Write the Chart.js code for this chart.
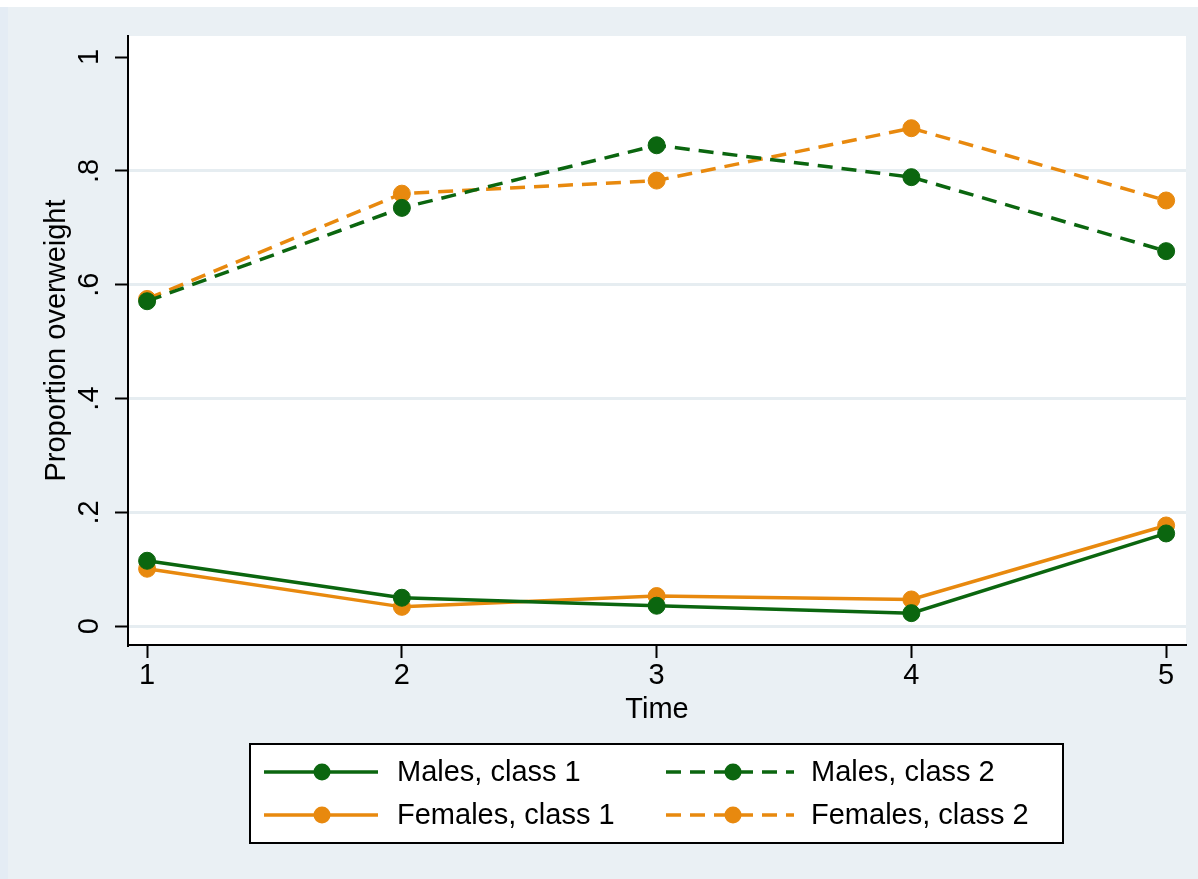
<!DOCTYPE html>
<html>
<head>
<meta charset="utf-8">
<script src="https://cdn.jsdelivr.net/npm/chart.js@4.4.1/dist/chart.umd.min.js"></script>
<style>
  html, body { margin: 0; padding: 0; background: #eaf0f4; }
  #wrap { width: 1198px; height: 879px; position: relative; }
  canvas { display: block; }
</style>
</head>
<body>
<div id="wrap"><canvas id="c" width="1198" height="879"></canvas></div>
<script>
// ---- Data ----
const times = [1, 2, 3, 4, 5];
const malesClass1 = [0.115, 0.050, 0.036, 0.023, 0.163];
const femalesClass1 = [0.101, 0.034, 0.053, 0.047, 0.177];
const malesClass2 = [0.571, 0.735, 0.845, 0.789, 0.659];
const femalesClass2 = [0.575, 0.760, 0.783, 0.875, 0.748];
const yTickValues = [0, 0.2, 0.4, 0.6, 0.8, 1];
const yTickLabels = ['0', '.2', '.4', '.6', '.8', '1'];
const xTickValues = [1, 2, 3, 4, 5];
const seriesNames = ['Males, class 1', 'Males, class 2', 'Females, class 1', 'Females, class 2'];

// ---- Styles ----
const GREEN = '#0b660f';
const ORANGE = '#e8890e';
const BG = '#eaf0f4';
const GRID = '#e6edf1';
const FONT = "'Liberation Sans', Arial, sans-serif";
const FS = 29;
const DASH = [15, 9];

const toPts = arr => arr.map((v, i) => ({ x: times[i], y: v }));

function ds(label, values, color, dashed) {
  return {
    label,
    data: toPts(values),
    borderColor: color,
    backgroundColor: color,
    borderWidth: 3.5,
    borderDash: dashed ? DASH : [],
    pointRadius: 8.5,
    pointHoverRadius: 8.5,
    pointBackgroundColor: color,
    pointBorderColor: color,
    pointBorderWidth: 1,
    tension: 0,
    fill: false
  };
}

const bgPlugin = {
  id: 'bgPlugin',
  beforeDraw(chart) {
    const { ctx, chartArea: a } = chart;
    ctx.save();
    ctx.fillStyle = BG;
    ctx.fillRect(0, 0, chart.width, chart.height);
    ctx.fillStyle = '#ffffff';
    ctx.fillRect(0, 0, chart.width, 7);
    ctx.fillStyle = '#e4ecf4';
    ctx.fillRect(0, 7, 8, chart.height - 7);
    ctx.fillStyle = '#ffffff';
    ctx.fillRect(a.left, a.top, a.right - a.left, a.bottom - a.top);
    ctx.restore();
  }
};

const legendPlugin = {
  id: 'stataLegend',
  afterDraw(chart) {
    const { ctx } = chart;
    const box = { x: 250, y: 744, w: 813, h: 99 };
    ctx.save();
    ctx.fillStyle = '#ffffff';
    ctx.fillRect(box.x, box.y, box.w, box.h);
    ctx.strokeStyle = '#000';
    ctx.lineWidth = 2;
    ctx.strokeRect(box.x, box.y, box.w, box.h);
    const slots = [
      { lx1: 264, lx2: 378, mx: 322, tx: 397, y: 772 },
      { lx1: 666, lx2: 794, mx: 733, tx: 811, y: 772 },
      { lx1: 264, lx2: 378, mx: 322, tx: 397, y: 815 },
      { lx1: 666, lx2: 794, mx: 733, tx: 811, y: 815 }
    ];
    chart.data.datasets.forEach((d, i) => {
      const s = slots[i];
      ctx.strokeStyle = d.borderColor;
      ctx.lineWidth = 3.5;
      ctx.setLineDash(d.borderDash || []);
      ctx.beginPath();
      ctx.moveTo(s.lx1, s.y);
      ctx.lineTo(s.lx2, s.y);
      ctx.stroke();
      ctx.setLineDash([]);
      ctx.fillStyle = d.pointBackgroundColor;
      ctx.beginPath();
      ctx.arc(s.mx, s.y, 8.5, 0, Math.PI * 2);
      ctx.fill();
      ctx.fillStyle = '#000';
      ctx.font = FS + 'px ' + FONT;
      ctx.textAlign = 'left';
      ctx.textBaseline = 'middle';
      ctx.fillText(d.label, s.tx, s.y + 1);
    });
    ctx.restore();
  }
};

new Chart(document.getElementById('c'), {
  type: 'line',
  data: {
    datasets: [
      ds(seriesNames[0], malesClass1, GREEN, false),
      ds(seriesNames[1], malesClass2, GREEN, true),
      ds(seriesNames[2], femalesClass1, ORANGE, false),
      ds(seriesNames[3], femalesClass2, ORANGE, true)
    ]
  },
  options: {
    responsive: false,
    animation: false,
    events: [],
    layout: { padding: { left: 8, top: 36, right: 12, bottom: 152 } },
    plugins: {
      legend: { display: false },
      tooltip: { enabled: false },
      title: { display: false }
    },
    scales: {
      x: {
        type: 'linear',
        min: 0.925,
        max: 5.078,
        afterBuildTicks: s => { s.ticks = xTickValues.map(v => ({ value: v })); },
        afterFit: s => { s.height = 82; },
        border: { display: true, color: '#000', width: 2 },
        grid: { drawOnChartArea: false, drawTicks: true, tickLength: 13, tickColor: '#000', tickWidth: 2 },
        ticks: { color: '#000', font: { family: FONT, size: FS }, padding: 1, maxRotation: 0, minRotation: 0,
                 callback: v => String(v) },
        title: { display: true, text: 'Time', color: '#000', font: { family: FONT, size: FS }, padding: { top: 0, bottom: 0 } }
      },
      y: {
        type: 'linear',
        min: -0.033,
        max: 1.037,
        afterBuildTicks: s => { s.ticks = yTickValues.map(v => ({ value: v })); },
        afterFit: s => { s.width = 120; },
        border: { display: true, color: '#000', width: 2 },
        grid: {
          color: c => (c.tick && c.tick.value === 1) ? 'rgba(0,0,0,0)' : GRID,
          lineWidth: 3,
          drawTicks: true,
          tickLength: 13,
          tickColor: '#000',
          tickWidth: 2
        },
        ticks: {
          color: '#000',
          font: { family: FONT, size: FS },
          minRotation: 90,
          maxRotation: 90,
          crossAlign: 'center',
          padding: 13,
          callback: (v, i) => yTickLabels[i]
        },
        title: { display: true, text: 'Proportion overweight', color: '#000', font: { family: FONT, size: FS }, padding: { top: 32, bottom: 0 } }
      }
    }
  },
  plugins: [bgPlugin, legendPlugin]
});
</script>
</body>
</html>
